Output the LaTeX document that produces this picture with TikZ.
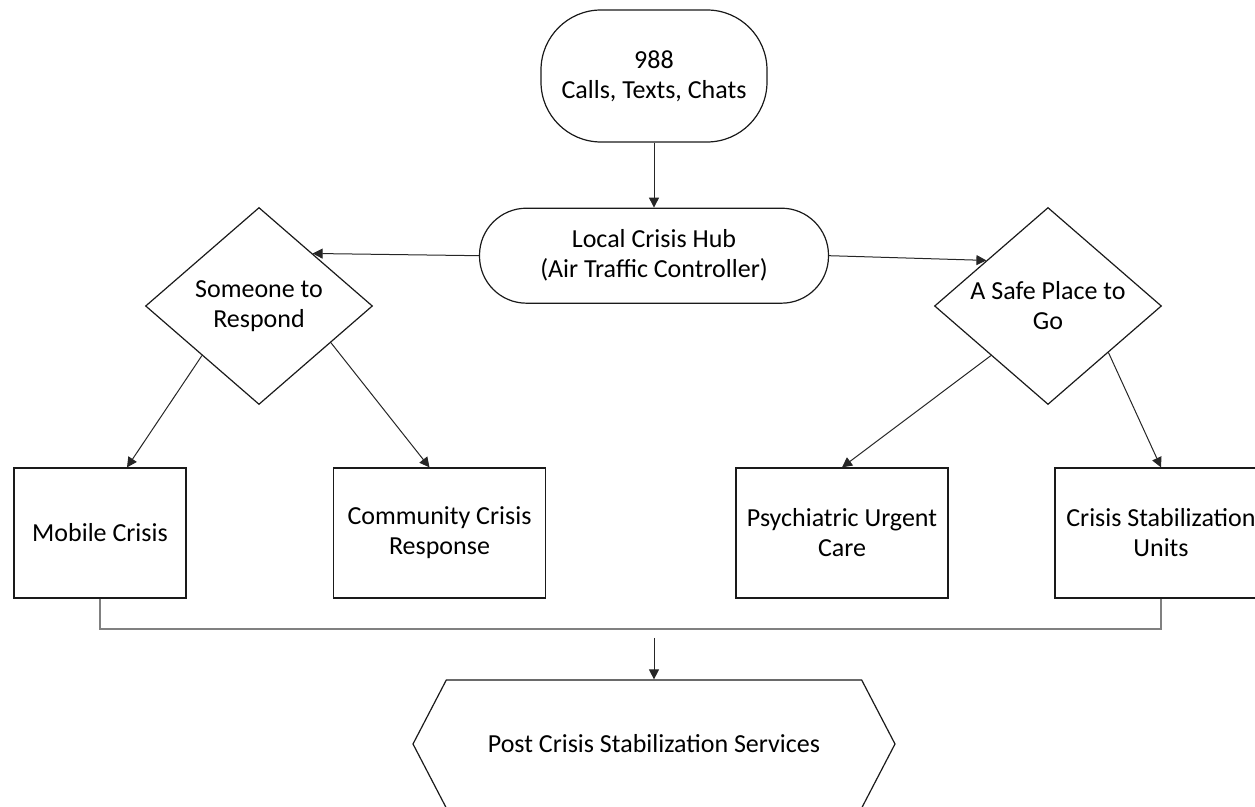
\documentclass[tikz,border=0pt]{standalone}
\usepackage{fontspec}
\setmainfont{Carlito}
\usetikzlibrary{positioning,arrows.meta,calc,shapes.geometric,shapes.symbols}
\definecolor{shapeDraw}{HTML}{1A1A1A}
\definecolor{arrowCol}{HTML}{262626}
\definecolor{joinCol}{HTML}{808080}

\begin{document}
\begin{tikzpicture}[
  x=0.5pt, y=-0.5pt,
  font=\fontsize{13}{15}\selectfont,
  term/.style={draw=shapeDraw, line width=0.6pt, rounded corners=30pt, align=center,
              minimum width=113pt, minimum height=66pt},
  hubbox/.style={draw=shapeDraw, line width=0.6pt, rounded corners=23.5pt, align=center,
              minimum width=174.5pt, minimum height=47.5pt},
  choice/.style={draw=shapeDraw, line width=0.6pt, diamond, aspect=1.15, inner sep=0pt,
              align=center, minimum width=113.5pt, minimum height=98.5pt},
  svc/.style={draw=shapeDraw, line width=0.6pt, align=center,
              minimum width=106pt, minimum height=65pt},
  post/.style={draw=shapeDraw, line width=0.6pt, shape=signal, signal to=east and west,
              signal pointer angle=125, minimum width=241pt, minimum height=64pt},
  flow/.style={-{Triangle[length=5pt,width=5pt]}, line width=0.5pt, draw=arrowCol},
  link/.style={line width=0.6pt, draw=joinCol},
]
\useasboundingbox (0,0) rectangle (1255,807);

% ---- Entrada y centro de crisis ----
\node[term]                    (call) at (654,76) {988\\Calls, Texts, Chats};
\node[hubbox, below=32.5pt of call] (hub)       {Local Crisis Hub\\(Air Traffic Controller)};

% ---- Decisiones ----
\node[choice] (resp) at (259,306)  {Someone to\\Respond};
\node[choice] (safe) at (1048,306) {A Safe Place to\\Go};

% ---- Servicios ----
\node[svc, minimum width=86pt] (mob) at (100,533)   {Mobile Crisis};
\node[svc]                     (ccr) at (439.5,533) {Community Crisis\\Response};
\node[svc]                     (puc) at (842,533)   {Psychiatric Urgent\\Care};
\node[svc]                     (csu) at (1161,533)  {Crisis Stabilization\\Units};

% ---- Salida ----
\node[post] (pcs) at (654,744) {Post Crisis Stabilization Services};

% ---- Flujo ----
\draw[flow] (call) -- (hub);
\draw[flow] (hub.west) -- ($(resp.north)!0.47!(resp.east)$);
\draw[flow] (hub.east) -- ($(safe.north)!0.54!(safe.west)$);
\draw[flow] ($(resp.west)!0.5!(resp.south)$) -- ([xshift=13.5pt]mob.north);
\draw[flow] ($(resp.east)!0.37!(resp.south)$) -- ([xshift=-5pt]ccr.north);
\draw[flow] ($(safe.west)!0.5!(safe.south)$) -- (puc.north);
\draw[flow] ($(safe.east)!0.47!(safe.south)$) -- (csu.north);

% ---- Union hacia los servicios posteriores ----
\coordinate (join) at (654,629);
\coordinate (drop) at (654,638);
\draw[link] (mob.south) |- (join) -| (csu.south);
\draw[flow] (drop) -- (pcs.north);

\end{tikzpicture}
\end{document}
